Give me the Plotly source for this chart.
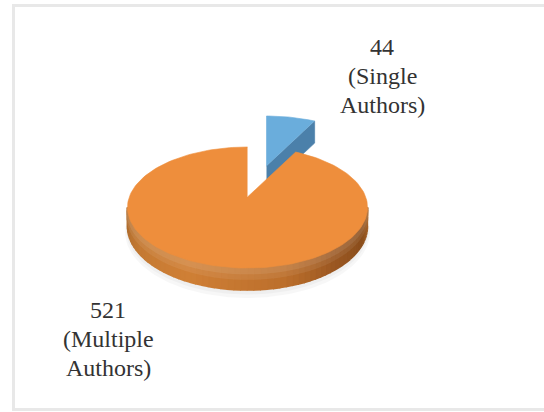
import numpy as np
import plotly.graph_objects as go

# Data
categories = ["Single Authors", "Multiple Authors"]
values = [44, 521]

# Style and projection settings
W, H = 544, 412
PIE_CX, PIE_CY = 247.5, 197
RAD_X, RAD_Y, PERSP, DEPTH = 118.2, 58.7, 0.1736, 18.2
PULL_X, PULL_Y = 19, -31
FACE = ["#6AADDC", "#EE8E3C"]
BLUE_SIDE = "#4B80AA"
SIDE_STOPS = [(100, "#A9662B"), (118, "#8A4E1C"), (140, "#9A5722"), (165, "#BC6F2C"),
              (205, "#D08036"), (235, "#C47A34"), (260, "#AE6C2E")]
BANDS = [(0.0, 1.0, 0.0), (0.0, 0.5, 0.07), (0.0, 0.25, 0.14)]


def project(phi, cx=PIE_CX, cy=PIE_CY, radius=1.0, drop=0.0):
    """Perspective projection of a point of the tilted disc; phi clockwise from top."""
    u, v = radius * np.sin(phi), radius * np.cos(phi)
    w = 1 + PERSP * v
    return cx + RAD_X * u / w, cy - RAD_Y * v / w + drop / w


def hex_rgb(c):
    return np.array([int(c[i:i + 2], 16) for i in (1, 3, 5)], dtype=float)


def side_colour(deg, lighten=0.0):
    xs = [s[0] for s in SIDE_STOPS]
    rgb = [np.interp(deg, xs, [hex_rgb(s[1])[k] for s in SIDE_STOPS]) for k in range(3)]
    rgb = [c + (255 - c) * lighten for c in rgb]
    return "rgb(%d,%d,%d)" % tuple(rgb)


def poly(x, y, color, opacity=1.0, lw=0.6):
    return go.Scatter(x=list(x), y=list(y), mode="lines", fill="toself", fillcolor=color,
                      line=dict(width=lw, color=color), opacity=opacity,
                      hoverinfo="skip", showlegend=False)


sweep = 2 * np.pi * values[0] / sum(values)
fig = go.Figure()

# soft ground shadow, front half only
low_phi = np.radians(np.linspace(95, 265, 80))
for scale, drop in [(1.02, DEPTH + 5), (1.01, DEPTH + 3), (1.0, DEPTH + 1)]:
    sx, sy = project(low_phi, radius=scale, drop=drop)
    fig.add_trace(go.Scatter(x=list(sx), y=list(sy), mode="lines", fill="toself",
                             fillcolor="rgba(0,0,0,0.03)", line=dict(width=0),
                             hoverinfo="skip", showlegend=False))

# pulled-out slice
bcx, bcy = PIE_CX + PULL_X, PIE_CY + PULL_Y
end_x, end_y = project(sweep, bcx, bcy)
a_x, a_y = project(0, bcx, bcy, radius=0)
fig.add_trace(poly([a_x, end_x, end_x, a_x], [a_y, end_y, end_y + 22, a_y + 22], BLUE_SIDE))
arc = np.linspace(0, sweep, 24)
bx, by = project(arc, bcx, bcy)
fig.add_trace(poly(np.r_[a_x, bx], np.r_[a_y, by], FACE[0]))

# side wall of the large slice: overlapping strips so no seams show
edges = np.radians(np.linspace(100, 260, 61))
for d0, d1, light in BANDS:
    for p0, p1 in zip(edges[:-1], edges[1:]):
        deg = np.degrees((p0 + p1) / 2)
        x0, y0 = project(p0, drop=DEPTH * d0)
        x1, y1 = project(p1, drop=DEPTH * d0)
        x2, y2 = project(p1, drop=DEPTH * d1)
        x3, y3 = project(p0, drop=DEPTH * d1)
        fig.add_trace(poly([x0, x1, x2, x3], [y0, y1, y2, y3], side_colour(deg, light), lw=1.6))

# top face of the large slice
arc = np.linspace(sweep, 2 * np.pi, 160)
ox, oy = project(arc)
c_x, c_y = project(0, radius=0)
fig.add_trace(poly(np.r_[c_x, ox], np.r_[c_y, oy], FACE[1]))

for x, ys, lines in [
    (382, (47, 76, 105), (str(values[0]), "(Single", "Authors)")),
    (108, (310, 339, 368), (str(values[1]), "(Multiple", "Authors)")),
]:
    for y, line in zip(ys, lines):
        fig.add_annotation(x=x, y=y, text=line, showarrow=False)

fig.add_shape(type="rect", xref="x", yref="y", x0=13.5, y0=5.5, x1=560, y1=409.5,
              line=dict(color="#E8E8E8", width=3), layer="below")

fig.update_layout(
    width=W, height=H, margin=dict(l=0, r=0, t=0, b=0),
    paper_bgcolor="white", plot_bgcolor="white", showlegend=False,
    font=dict(family="Liberation Serif", size=24, color="#333333"),
    xaxis=dict(range=[0, W], visible=False, fixedrange=True),
    yaxis=dict(range=[H, 0], visible=False, fixedrange=True),
)
fig.write_html("out.html", config={"displayModeBar": False},
               post_script="document.body.style.margin='0';")
